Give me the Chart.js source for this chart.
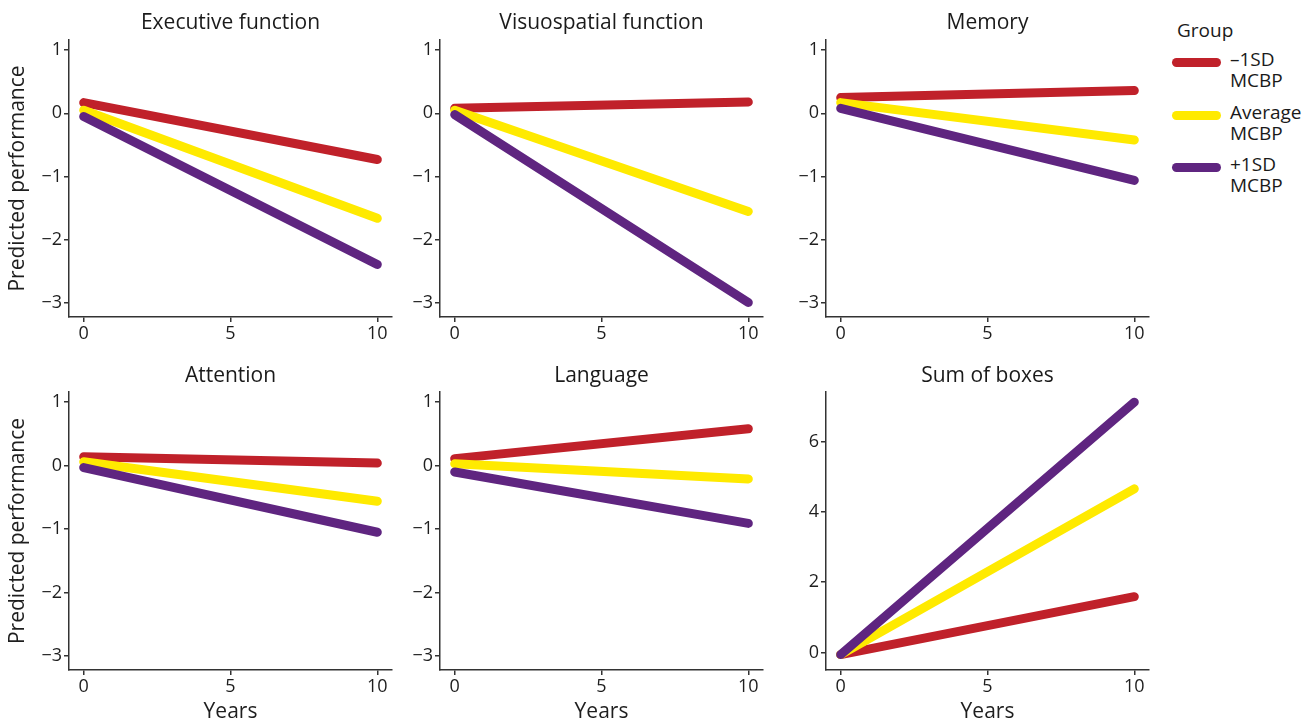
<!DOCTYPE html>
<html>
<head>
<meta charset="utf-8">
<script src="https://cdn.jsdelivr.net/npm/chart.js@4.4.1/dist/chart.umd.min.js"></script>
<style>
  html, body { margin: 0; padding: 0; background: #fff; }
  body { width: 1312px; height: 724px; position: relative; overflow: hidden; font-family: 'Open Sans', sans-serif; color: #1a1a1a; }
  .panel { position: absolute; }
  .panel canvas { display: block; }
  .ptitle { position: absolute; font-size: 21px; line-height: 26px; white-space: nowrap; transform: translateX(-50%); }
  #legend { position: absolute; left: 1172px; top: 17px; font-size: 19px; }
  #legend .head { position: absolute; left: 5px; top: 0; line-height: 26px; }
  #legend .item { position: absolute; left: 0; width: 140px; }
  #legend .key { position: absolute; left: 0; width: 49px; height: 9px; border-radius: 4.5px; }
  #legend .lbl { position: absolute; left: 58px; line-height: 21px; white-space: nowrap; }
</style>
</head>
<body>
<div id="legend"></div>
<script>
// x values and axis ticks
const years = [0, 10];
const yearTicks = [0, 5, 10];
const scoreTicks = [1, 0, -1, -2, -3];
const boxTicks = [0, 2, 4, 6];

// groups (low MCBP, average, high MCBP)
const groupNames = [['\u20131SD', 'MCBP'], ['Average', 'MCBP'], ['+1SD', 'MCBP']];
const groupColors = ['#C0212A', '#FFEA00', '#5F2580'];

const panelTitles = ['Executive function', 'Visuospatial function', 'Memory',
                     'Attention', 'Language', 'Sum of boxes'];

// predicted values at year 0 and year 10, per group
const executive = [[0.17, -0.73], [0.05, -1.66], [-0.05, -2.39]];
const visuospatial = [[0.08, 0.18], [0.05, -1.55], [-0.02, -2.99]];
const memory = [[0.25, 0.36], [0.17, -0.42], [0.08, -1.06]];
const attention = [[0.14, 0.04], [0.06, -0.56], [-0.03, -1.05]];
const language = [[0.11, 0.58], [0.03, -0.21], [-0.10, -0.91]];
const sumOfBoxes = [[-0.06, 1.59], [-0.06, 4.66], [-0.06, 7.13]];

const panelData = [executive, visuospatial, memory, attention, language, sumOfBoxes];

// layout of each panel: canvas box + where the axes should land
const cols = [
  { left: 0,   width: 400, axisX: 69 },
  { left: 400, width: 380, axisX: 440 },
  { left: 780, width: 380, axisX: 826 },
];
const rows = [
  { top: 0,   height: 345, axisTop: 40,  axisBottom: 317, titleY: 8,   yearsTitle: false },
  { top: 362, height: 362, axisTop: 392, axisBottom: 670, titleY: 361, yearsTitle: true },
];
const plotRight = 323; // plot width in px

const AXIS_COLOR = '#333333';
const TEXT_COLOR = '#1e1e1e';

function makePanel(idx) {
  const col = cols[idx % 3];
  const row = rows[Math.floor(idx / 3)];
  const isBoxes = idx === 5;
  const showYTitle = idx % 3 === 0;

  const wrap = document.createElement('div');
  wrap.className = 'panel';
  wrap.style.left = col.left + 'px';
  wrap.style.top = row.top + 'px';
  wrap.style.width = col.width + 'px';
  wrap.style.height = row.height + 'px';
  const canvas = document.createElement('canvas');
  wrap.appendChild(canvas);
  document.body.appendChild(wrap);

  const title = document.createElement('div');
  title.className = 'ptitle';
  title.textContent = panelTitles[idx];
  title.style.left = (col.axisX + plotRight / 2) + 'px';
  title.style.top = row.titleY + 'px';
  document.body.appendChild(title);

  const yAxisWidth = col.axisX - col.left;
  const xAxisHeight = row.top + row.height - row.axisBottom;
  const rightPad = col.left + col.width - (col.axisX + plotRight);

  const datasets = panelData[idx].map((vals, g) => ({
    label: groupNames[g].join(' '),
    data: years.map((x, i) => ({ x, y: vals[i] })),
    borderColor: groupColors[g],
    backgroundColor: groupColors[g],
    borderWidth: 9,
    borderCapStyle: 'round',
    pointRadius: 0,
    tension: 0,
    order: 3 - g,
  }));

  const tickFont = { family: 'Open Sans', size: 18 };
  const titleFont = { family: 'Open Sans', size: 21 };

  new Chart(canvas, {
    type: 'line',
    data: { datasets },
    options: {
      responsive: true,
      maintainAspectRatio: false,
      animation: false,
      events: [],
      layout: { padding: { top: row.axisTop - row.top, right: rightPad, left: 0, bottom: 0 } },
      plugins: { legend: { display: false }, tooltip: { enabled: false } },
      scales: {
        x: {
          type: 'linear',
          min: -0.5,
          max: 10.5,
          afterBuildTicks: (s) => { s.ticks = yearTicks.map(v => ({ value: v })); },
          afterFit: (s) => { s.height = xAxisHeight; },
          grid: { drawOnChartArea: false, drawTicks: true, tickLength: 5, color: AXIS_COLOR, lineWidth: 1.5 },
          border: { display: true, color: AXIS_COLOR, width: 1.5 },
          ticks: { font: tickFont, color: TEXT_COLOR, padding: 1, maxRotation: 0 },
          title: { display: row.yearsTitle, text: 'Years', font: titleFont, color: TEXT_COLOR, padding: { top: 0, bottom: -1 } },
        },
        y: {
          type: 'linear',
          min: isBoxes ? -0.5 : -3.22,
          max: isBoxes ? 7.42 : 1.16,
          afterBuildTicks: (s) => { s.ticks = (isBoxes ? boxTicks : scoreTicks).map(v => ({ value: v })); },
          afterFit: (s) => { s.width = yAxisWidth; },
          grid: { drawOnChartArea: false, drawTicks: true, tickLength: 5, color: AXIS_COLOR, lineWidth: 1.5 },
          border: { display: true, color: AXIS_COLOR, width: 1.5 },
          ticks: {
            font: tickFont, color: TEXT_COLOR, padding: 2,
            callback: (v) => (v < 0 ? '\u2212' + Math.abs(v) : String(v)),
          },
          title: { display: showYTitle, text: 'Predicted performance', font: titleFont, color: TEXT_COLOR, padding: { top: 5, bottom: 0 } },
        },
      },
    },
  });
}

for (let i = 0; i < 6; i++) makePanel(i);

// legend
const legend = document.getElementById('legend');
const head = document.createElement('div');
head.className = 'head';
head.textContent = 'Group';
legend.appendChild(head);
const keyY = [41, 94, 146];
groupNames.forEach((lines, g) => {
  const item = document.createElement('div');
  item.className = 'item';
  item.style.top = keyY[g] + 'px';
  const key = document.createElement('div');
  key.className = 'key';
  key.style.background = groupColors[g];
  key.style.top = '0px';
  const lbl = document.createElement('div');
  lbl.className = 'lbl';
  lbl.style.top = '-9px';
  lines.forEach(t => {
    const d = document.createElement('div');
    d.textContent = t;
    lbl.appendChild(d);
  });
  item.append(key, lbl);
  legend.appendChild(item);
});
</script>
</body>
</html>
